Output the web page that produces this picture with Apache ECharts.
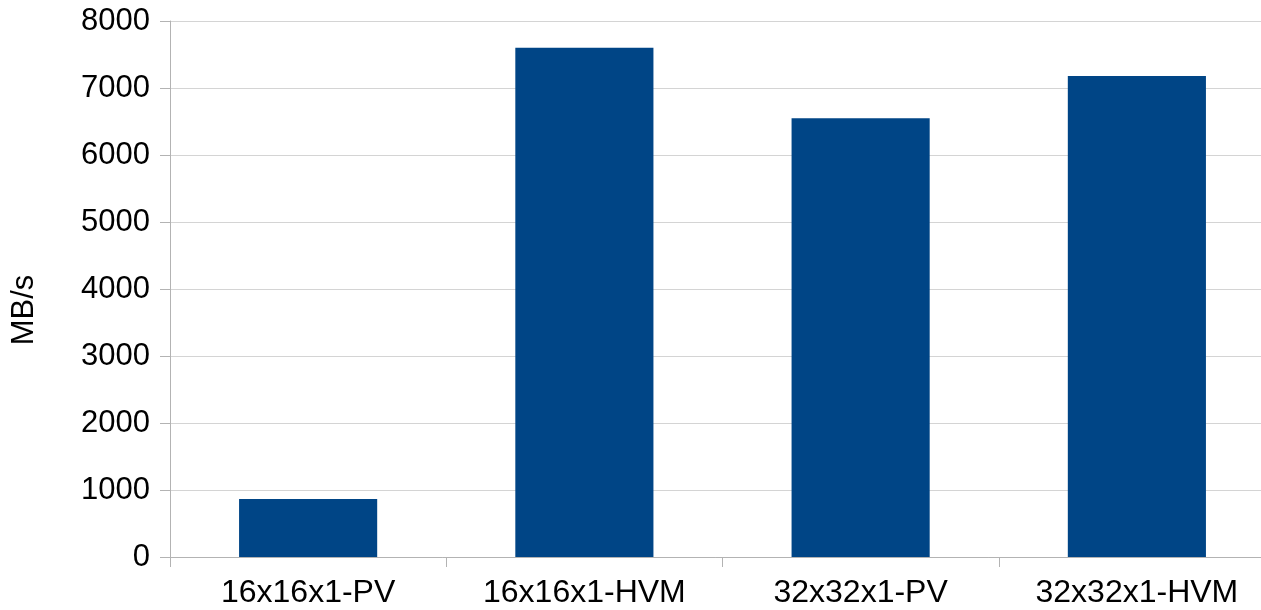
<!DOCTYPE html>
<html><head><meta charset="utf-8">
<script src="https://cdn.jsdelivr.net/npm/echarts@6/dist/echarts.min.js"></script>
<style>html,body{margin:0;padding:0;background:#fff}#c{width:1261px;height:610px}</style>
</head><body><div id="c"></div>
<script>
const categories = ['16x16x1-PV', '16x16x1-HVM', '32x32x1-PV', '32x32x1-HVM'];
const throughput = [865, 7600, 6550, 7180];
const yTicks = { min: 0, max: 8000, interval: 1000 };
const yAxisName = 'MB/s';

const chart = echarts.init(document.getElementById('c'), null, { renderer: 'canvas' });
chart.setOption({
  animation: false,
  textStyle: { fontFamily: 'Liberation Sans' },
  grid: { left: 170, width: 1105, top: 21, bottom: 53, containLabel: false, outerBoundsMode: 'none' },
  xAxis: {
    type: 'category',
    data: categories,
    axisLine: { show: true, lineStyle: { color: '#b3b3b3', width: 1 } },
    axisTick: { show: true, length: 10, lineStyle: { color: '#b3b3b3' } },
    axisLabel: { color: '#000', fontSize: 32, margin: 20, fontFamily: 'Liberation Sans', hideOverlap: false },
    splitLine: { show: false }
  },
  yAxis: {
    type: 'value',
    min: yTicks.min, max: yTicks.max, interval: yTicks.interval,
    name: yAxisName,
    nameLocation: 'middle',
    nameRotate: 90,
    nameGap: 130,
    nameTextStyle: { color: '#000', fontSize: 31, fontFamily: 'Liberation Sans', padding: [0, 42, 0, 0] },
    axisLine: { show: true, lineStyle: { color: '#b3b3b3', width: 1 } },
    axisTick: { show: true, length: 10, lineStyle: { color: '#b3b3b3' } },
    axisLabel: { color: '#000', fontSize: 31, margin: 20, fontFamily: 'Liberation Sans', formatter: v => String(v) },
    splitLine: { show: true, lineStyle: { color: '#d4d4d4', width: 1 } }
  },
  series: [{
    type: 'bar',
    data: throughput,
    barWidth: '50%',
    itemStyle: { color: '#004586' }
  }]
});
</script></body></html>
